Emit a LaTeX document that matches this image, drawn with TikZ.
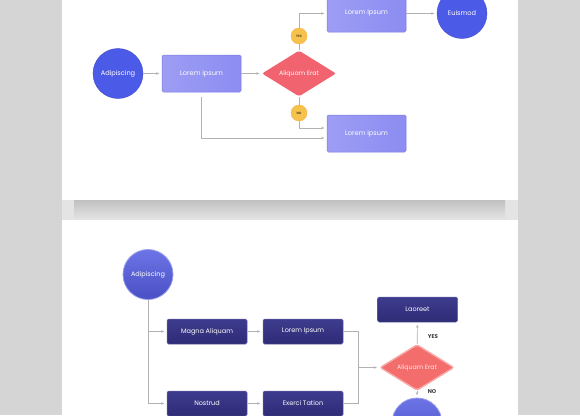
\documentclass[tikz,border=0pt]{standalone}
\usepackage{fontspec}
\setmainfont{Poppins}
\usepackage{xcolor}
\usepackage{tikz}
\usetikzlibrary{calc,arrows.meta,shapes.geometric}
\definecolor{pgback}{RGB}{213, 213, 213}
\definecolor{lnkgray}{RGB}{178, 178, 178}
\definecolor{lilac}{RGB}{140, 140, 242}
\definecolor{lilacdark}{RGB}{122, 122, 228}
\definecolor{royal}{RGB}{76, 90, 232}
\definecolor{coral}{RGB}{242, 99, 112}
\definecolor{amber}{RGB}{246, 194, 78}
\definecolor{navy}{RGB}{62, 60, 142}
\definecolor{navydark}{RGB}{46, 44, 118}
\definecolor{salmon}{RGB}{244, 109, 109}
\definecolor{salmonlight}{RGB}{249, 168, 168}
\definecolor{bluish}{RGB}{108, 116, 230}
\definecolor{bluishdark}{RGB}{74, 80, 196}
\definecolor{gapgray}{RGB}{228, 228, 228}
\definecolor{shadegray}{RGB}{192, 192, 192}

\begin{document}
\begin{tikzpicture}[x=1pt, y=-1pt,
  line/.style={lnkgray, line width=0.6pt},
  link/.style={line, -{Stealth[length=3pt, width=2.5pt]}, shorten >=2.5pt},
  tbox/.style={rectangle, rounded corners=1.5pt, draw=lilacdark, line width=0.5pt,
    left color=lilac!85!white, right color=lilac, text=white, font=\fontsize{6.6}{8}\selectfont,
    minimum width=79pt, minimum height=37pt, inner sep=0pt},
  tcirc/.style={circle, fill=royal, draw=royal!85!black, line width=0.4pt, text=white,
    font=\fontsize{6.6}{8}\selectfont, minimum size=50pt, inner sep=0pt},
  tdiam/.style={diamond, fill=coral, rounded corners=2pt, text=white,
    font=\fontsize{6.2}{7}\selectfont, minimum width=74pt, minimum height=37pt, inner sep=0pt},
  tag/.style={circle, fill=amber, draw=amber!80!orange, line width=0.4pt, text=amber!40!black,
    font=\bfseries\fontsize{3.2}{4}\selectfont, minimum size=16pt, inner sep=0pt},
  bbox/.style={rectangle, rounded corners=1.5pt, draw=navy!80!white, line width=0.5pt,
    top color=navy, bottom color=navydark, text=white, font=\fontsize{6.5}{8}\selectfont,
    minimum width=80pt, minimum height=25pt, inner sep=0pt},
  bcirc/.style={circle, top color=bluish, bottom color=bluishdark, draw=bluish!70!white,
    line width=0.8pt, text=white, font=\fontsize{6.5}{8}\selectfont, minimum size=50pt, inner sep=0pt},
  bdiam/.style={diamond, fill=salmon, draw=salmonlight, line width=1.4pt, rounded corners=2pt,
    text=white!85!salmon, font=\fontsize{6.2}{7}\selectfont, minimum width=74pt, minimum height=35pt, inner sep=0pt},
  lbl/.style={text=black!75, font=\bfseries\fontsize{5.5}{6}\selectfont, inner sep=0pt}]
\useasboundingbox (0,0) rectangle (580,415);
\fill[pgback] (0,0) rectangle (580,415);

% Card 1: first flow
\begin{scope}
\fill[white] (62,-2) rectangle (518,200);
\fill[gapgray] (62,200) rectangle (518,220);
\shade[top color=shadegray, bottom color=gapgray] (74,200) rectangle (505,219);
\node[tcirc] (adip) at (118,73.5) {Adipiscing};
\node[tbox] (lorem) at (201.5,73.5) {Lorem ipsum};
\node[tdiam] (erat) at (299,73.5) {Aliquam Erat};
\node[tbox] (ipsumA) at (366.5,13.5) {Lorem Ipsum};
\node[tcirc] (euis) at (462,13.5) {Euismod};
\node[tbox] (ipsumB) at (366.5,133.5) {Lorem ipsum};
\node[tag] (yes) at (299,36) {YES};
\node[tag] (no) at (299,113) {NO};
% Connectors
\draw[link] (adip) -- (lorem);
\draw[link] (lorem) -- (erat);
\draw[line] (erat) -- (yes);
\draw[link] (yes) |- (ipsumA);
\draw[link] (ipsumA) -- (euis);
\draw[line] (erat) -- (no);
\draw[link] (no) |- ([yshift=5.5pt]ipsumB.west);
\draw[link, shorten <=5pt] (lorem.south) |- ([yshift=-4.5pt]ipsumB.west);
\end{scope}

% Card 2: second flow
\begin{scope}
\fill[white] (62,220) rectangle (518,417);
\node[bcirc] (start) at (148,274.5) {Adipiscing};
\node[bbox] (magna) at (207,331.5) {Magna Aliquam};
\node[bbox] (lips) at (303,331.5) {Lorem Ipsum};
\node[bbox] (nost) at (207,403.5) {Nostrud};
\node[bbox] (exer) at (303,403.5) {Exerci Tation};
\node[bdiam] (berat) at (417,367.5) {Aliquam Erat};
\node[bbox] (laor) at (417.5,309.5) {Laoreet};
\node[bcirc] (endc) at (417,423) {};
\node[lbl] (ylbl) at (433,337) {YES};
\node[lbl] (nlbl) at (432,392) {NO};
\coordinate (trunk) at (148,403.5);
\coordinate (merge) at (358,367.5);
% Connectors
\draw[line] (start) -- (trunk);
\draw[link] (start |- magna) -- (magna);
\draw[link] (trunk) -- (nost);
\draw[link] (magna) -- (lips);
\draw[link] (nost) -- (exer);
\draw[line] (lips) -| (merge);
\draw[line] (exer) -| (merge);
\draw[link] (merge) -- (berat);
\draw[link] (berat) -- (laor);
\draw[link] (berat) -- (endc);
\end{scope}
\end{tikzpicture}
\end{document}
